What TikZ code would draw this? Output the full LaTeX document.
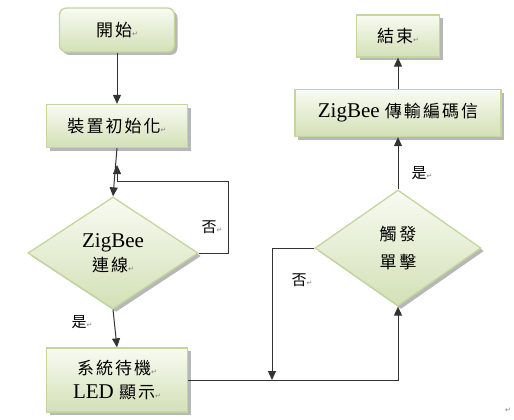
\documentclass[tikz,border=0pt]{standalone}
\usepackage{fontspec}
\setmainfont{Liberation Serif}
\newfontfamily\cjk[LetterSpace=12]{Noto Sans CJK TC}
\newfontfamily\symf{DejaVu Sans}
\usetikzlibrary{shapes.geometric,shadows,arrows.meta}
\definecolor{bordergreen}{HTML}{C3D69B}
\definecolor{filltop}{HTML}{F8FBF2}
\definecolor{fillbot}{HTML}{D3E0B6}
\newcommand{\parmark}{{\symf\fontsize{7}{7}\selectfont\textcolor{gray}{↵}}}
\newcommand{\zh}[1]{{\cjk\fontsize{17}{20}\selectfont #1}}
\begin{document}
\begin{tikzpicture}[x=1pt,y=-1pt,
  shape base/.style={draw=bordergreen, line width=1.3pt, top color=filltop, bottom color=fillbot,
    drop shadow={shadow xshift=3pt,shadow yshift=-3pt,fill=black!40,opacity=0.7},
    inner sep=0pt, align=center, font=\fontsize{21}{24}\selectfont},
  box/.style={shape base, rectangle},
  rbox/.style={shape base, rectangle, rounded corners=7pt},
  dia/.style={shape base, diamond, aspect=1.5},
  conn/.style={line width=1pt, draw=black!80},
  arr/.style={conn, -{Triangle[length=9pt,width=8pt]}},
  lbl/.style={font=\cjk\fontsize{15}{18}\selectfont, inner sep=0pt}
]
\useasboundingbox (0,0) rectangle (514,420);
\fill[white] (0,0) rectangle (514,420);

% nodes
\node[rbox, minimum width=115, minimum height=44] (start) at (117,30) {\zh{開始}\parmark};
\node[box, minimum width=141, minimum height=43] (init) at (117,126) {\zh{裝置初始化}\parmark};
\node[dia, minimum width=170, minimum height=112] (zb) at (113,253) {ZigBee\\[0pt]\zh{連線}\parmark};
\node[box, minimum width=141, minimum height=64] (sys) at (117,380) {\zh{系統待機}\parmark\\[0pt]LED \zh{顯示}\parmark};
\node[dia, minimum width=166, minimum height=116] (trig) at (398,248) {\zh{觸\,發}\\[4pt]\zh{單\,擊}};
\node[box, minimum width=206, minimum height=47] (tx) at (398,113) {ZigBee \zh{傳輸編碼信}};
\node[box, minimum width=83, minimum height=42] (end) at (398,36) {\zh{結束}\parmark};

% helper coordinates
\coordinate (fbx) at (228,181);
\coordinate (fbj) at (117,181);
\coordinate (fbt) at (117,165);
\coordinate (jn) at (272,380);

% connectors
\draw[arr] (start.south) -- (init.north);
\draw[arr] (init.south) -- (zb.north);
\draw[arr] (zb.east) -| (fbx) -- (fbj) -- (fbt);
\draw[arr] (zb.south) -- (sys.north);
\draw[arr] (sys.east) -| (trig.south);
\draw[arr] (trig.west) -| (jn);
\draw[arr] (trig.north) -- (tx.south);
\draw[arr] (tx.north) -- (end.south);

% labels
\node[lbl] (no1) at (212,227) {否\parmark};
\node[lbl] (yes1) at (82,322) {是\parmark};
\node[lbl] (no2) at (302,280) {否\parmark};
\node[lbl] (yes2) at (422,173) {是\parmark};
\node[inner sep=0pt] (pm) at (508,410) {\parmark};
\end{tikzpicture}
\end{document}
